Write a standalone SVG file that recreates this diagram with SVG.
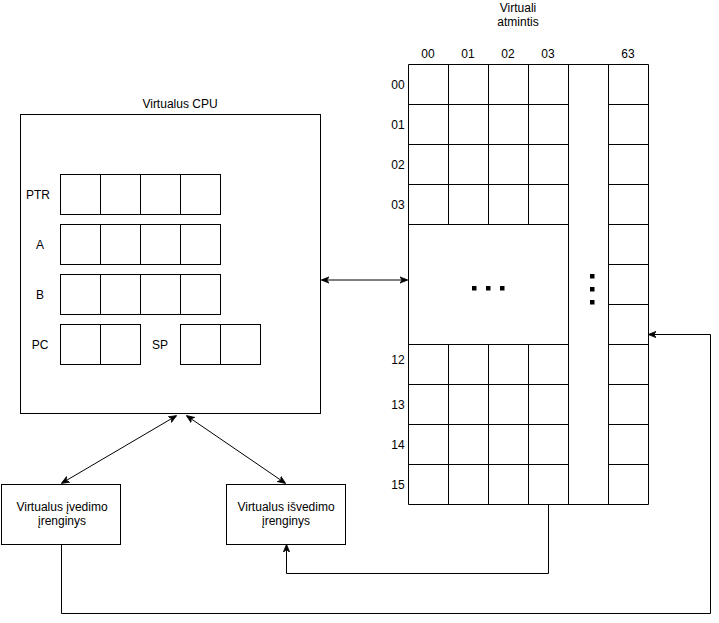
<svg xmlns="http://www.w3.org/2000/svg" width="719" height="623" viewBox="0 0 719 623">
<style>
.b{fill:#fff;stroke:#000;stroke-width:1}
.c{fill:none;stroke:#000;stroke-width:1}
text{font-family:"Liberation Sans",Arial,sans-serif;font-size:12px;fill:#000}
.m{text-anchor:middle}
</style>
<defs>
<marker id="ah" viewBox="0 0 10 10" refX="9" refY="5" markerWidth="8" markerHeight="8" markerUnits="userSpaceOnUse" orient="auto-start-reverse">
<path d="M0,1 L10,5 L0,9 L3,5 Z" fill="#000" stroke="#000" stroke-width="1"/>
</marker>
<g id="cell"><rect class="b" width="40" height="40"/></g>
</defs>
<rect width="719" height="623" fill="#fff"/>

<g id="connectors">
<line class="c" x1="322" y1="280" x2="407" y2="280" marker-start="url(#ah)" marker-end="url(#ah)"/>
<line class="c" x1="176" y1="416" x2="62" y2="483" marker-start="url(#ah)" marker-end="url(#ah)"/>
<line class="c" x1="187" y1="416" x2="285" y2="483" marker-start="url(#ah)" marker-end="url(#ah)"/>
<polyline class="c" points="548.5,504 548.5,573.5 286.5,573.5 286.5,545" marker-end="url(#ah)"/>
<polyline class="c" points="61.5,544 61.5,613.5 710.5,613.5 710.5,334.5 649,334.5" marker-end="url(#ah)"/>
</g>

<g id="cpu">
<text class="m" x="180" y="108">Virtualus CPU</text>
<rect class="b" x="20.5" y="114.5" width="300" height="299"/>
</g>

<g id="reg-ptr">
<text class="m" x="38" y="199">PTR</text>
<use href="#cell" x="60.5" y="174.5"/><use href="#cell" x="100.5" y="174.5"/><use href="#cell" x="140.5" y="174.5"/><use href="#cell" x="180.5" y="174.5"/>
</g>
<g id="reg-a">
<text class="m" x="40" y="249">A</text>
<use href="#cell" x="60.5" y="224.5"/><use href="#cell" x="100.5" y="224.5"/><use href="#cell" x="140.5" y="224.5"/><use href="#cell" x="180.5" y="224.5"/>
</g>
<g id="reg-b">
<text class="m" x="40" y="299">B</text>
<use href="#cell" x="60.5" y="274.5"/><use href="#cell" x="100.5" y="274.5"/><use href="#cell" x="140.5" y="274.5"/><use href="#cell" x="180.5" y="274.5"/>
</g>
<g id="reg-pc">
<text class="m" x="40" y="349">PC</text>
<use href="#cell" x="60.5" y="324.5"/><use href="#cell" x="100.5" y="324.5"/>
</g>
<g id="reg-sp">
<text class="m" x="160" y="349">SP</text>
<use href="#cell" x="180.5" y="324.5"/><use href="#cell" x="220.5" y="324.5"/>
</g>

<g id="input">
<rect class="b" x="1.5" y="484.5" width="119" height="60"/>
<text class="m" x="62" y="511">Virtualus įvedimo</text>
<text class="m" x="62" y="525">įrenginys</text>
</g>
<g id="output">
<rect class="b" x="226.5" y="484.5" width="119" height="60"/>
<text class="m" x="286" y="511">Virtualus išvedimo</text>
<text class="m" x="286" y="525">įrenginys</text>
</g>

<g id="memory">
<text class="m" x="518" y="12">Virtuali</text>
<text class="m" x="518" y="26">atmintis</text>
<text class="m" x="428" y="58">00</text>
<text class="m" x="468" y="58">01</text>
<text class="m" x="508" y="58">02</text>
<text class="m" x="548" y="58">03</text>
<text class="m" x="628" y="58">63</text>
<text class="m" x="398" y="89">00</text>
<text class="m" x="398" y="129">01</text>
<text class="m" x="398" y="169">02</text>
<text class="m" x="398" y="209">03</text>
<text class="m" x="398" y="364">12</text>
<text class="m" x="398" y="409">13</text>
<text class="m" x="398" y="449">14</text>
<text class="m" x="398" y="489">15</text>
<rect class="b" x="568.5" y="64.5" width="40" height="440"/>
<rect class="b" x="408.5" y="224.5" width="160" height="120"/>
<path class="c" d="M408.5,64.5H568.5M408.5,104.5H568.5M408.5,144.5H568.5M408.5,184.5H568.5M408.5,224.5H568.5
M408.5,344.5H568.5M408.5,384.5H568.5M408.5,424.5H568.5M408.5,464.5H568.5M408.5,504.5H568.5
M408.5,64.5V224.5M448.5,64.5V224.5M488.5,64.5V224.5M528.5,64.5V224.5
M408.5,344.5V504.5M448.5,344.5V504.5M488.5,344.5V504.5M528.5,344.5V504.5
M608.5,64.5V504.5M648.5,64.5V504.5
M608.5,64.5H648.5M608.5,104.5H648.5M608.5,144.5H648.5M608.5,184.5H648.5M608.5,224.5H648.5M608.5,264.5H648.5M608.5,304.5H648.5M608.5,344.5H648.5M608.5,384.5H648.5M608.5,424.5H648.5M608.5,464.5H648.5M608.5,504.5H648.5"/>
<g fill="#000">
<rect x="472" y="286" width="4.5" height="4.5"/><rect x="486" y="286" width="4.5" height="4.5"/><rect x="500" y="286" width="4.5" height="4.5"/>
<rect x="590" y="274" width="4.5" height="4.5"/><rect x="590" y="287" width="4.5" height="4.5"/><rect x="590" y="300" width="4.5" height="4.5"/>
</g>
</g>
</svg>
